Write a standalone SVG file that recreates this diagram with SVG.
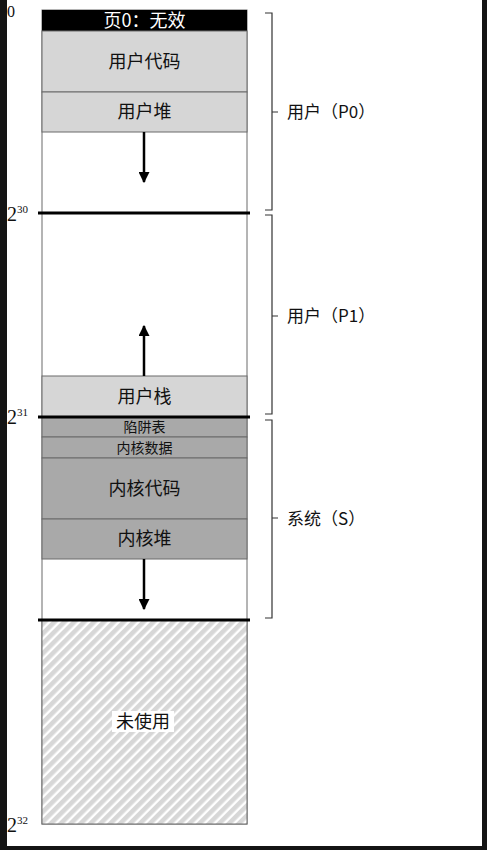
<svg xmlns="http://www.w3.org/2000/svg" width="487" height="850" viewBox="0 0 487 850">
<style>
.box{stroke:#6a6a6a;stroke-width:1}
.u{fill:#d6d6d6}
.k{fill:#a9a9a9}
.w{fill:#ffffff}
.t{font-family:"Noto Sans CJK SC","Noto Sans",sans-serif;font-size:18px;fill:#111;text-anchor:middle}
.ts{font-size:14px}
.lb{font-family:"Noto Sans CJK SC","Noto Sans",sans-serif;font-size:17px;fill:#111}
.num{font-family:"Liberation Serif",serif;fill:#111}
.sep{stroke:#000;stroke-width:3}
.br{stroke:#333;stroke-width:1.2;fill:none}
.arr{stroke:#000;stroke-width:2.5}
</style>
<defs>
<marker id="ah" viewBox="0 0 10 10" refX="9" refY="5" markerWidth="4.4" markerHeight="4.4" orient="auto-start-reverse" markerUnits="strokeWidth">
<path d="M0,0 L10,5 L0,10 z" fill="#000"/>
</marker>
<pattern id="hatch" patternUnits="userSpaceOnUse" width="7" height="7" patternTransform="rotate(45)">
<rect width="7" height="7" fill="#ffffff"/>
<rect width="4.6" height="7" fill="#d7d7d7"/>
</pattern>
</defs>
<rect x="0" y="0" width="487" height="850" fill="#ffffff"/>
<rect x="0" y="0" width="7" height="850" fill="#141414"/>
<rect x="482" y="0" width="5" height="850" fill="#141414"/>
<rect x="0" y="846" width="487" height="4" fill="#141414"/>

<g id="column">
<rect class="box w" x="42" y="10" width="205" height="814"/>
</g>
<g id="page0"><rect x="42" y="10" width="205" height="21" fill="#000"/><text x="144.5" y="27" class="t" style="fill:#fff">页0：无效</text></g>
<g id="user-code"><rect class="box u" x="42" y="31" width="205" height="61"/><text x="144.5" y="68" class="t">用户代码</text></g>
<g id="user-heap"><rect class="box u" x="42" y="92" width="205" height="40"/><text x="144.5" y="118" class="t">用户堆</text></g>
<g id="user-stack"><rect class="box u" x="42" y="376" width="205" height="41"/><text x="144.5" y="403" class="t">用户栈</text></g>
<g id="trap-table"><rect class="box k" x="42" y="417" width="205" height="20"/><text x="144.5" y="432" class="t ts">陷阱表</text></g>
<g id="kernel-data"><rect class="box k" x="42" y="437" width="205" height="21"/><text x="144.5" y="453" class="t ts">内核数据</text></g>
<g id="kernel-code"><rect class="box k" x="42" y="458" width="205" height="61"/><text x="144.5" y="495" class="t">内核代码</text></g>
<g id="kernel-heap"><rect class="box k" x="42" y="519" width="205" height="40"/><text x="144.5" y="545" class="t">内核堆</text></g>
<g id="unused"><rect class="box" x="42" y="620" width="205" height="204" fill="url(#hatch)"/><rect x="112" y="711" width="62" height="21" fill="#fff"/><text x="143" y="728" class="t">未使用</text></g>

<g id="connectors">
<line class="sep" x1="38" y1="213" x2="250" y2="213"/>
<line class="sep" x1="38" y1="417" x2="250" y2="417"/>
<line class="sep" x1="38" y1="620" x2="250" y2="620"/>
<line class="arr" x1="144" y1="132" x2="144" y2="182" marker-end="url(#ah)"/>
<line class="arr" x1="144" y1="376" x2="144" y2="326" marker-end="url(#ah)"/>
<line class="arr" x1="144" y1="559" x2="144" y2="609" marker-end="url(#ah)"/>
<path class="br" d="M265,13 H272 V210 H265 M272,112 H278"/>
<path class="br" d="M265,215 H272 V414 H265 M272,316 H278"/>
<path class="br" d="M265,420 H272 V618 H265 M272,518 H278"/>
</g>

<g id="labels">
<text x="287" y="118" class="lb">用户（P0）</text>
<text x="287" y="322" class="lb">用户（P1）</text>
<text x="287" y="525" class="lb">系统（S）</text>
<text x="7" y="17" class="num" font-size="16">0</text>
<text x="7" y="221" class="num" font-size="20">2<tspan font-size="11" dy="-8">30</tspan></text>
<text x="7" y="424" class="num" font-size="20">2<tspan font-size="11" dy="-8">31</tspan></text>
<text x="7" y="832" class="num" font-size="20">2<tspan font-size="11" dy="-8">32</tspan></text>
</g>
</svg>
